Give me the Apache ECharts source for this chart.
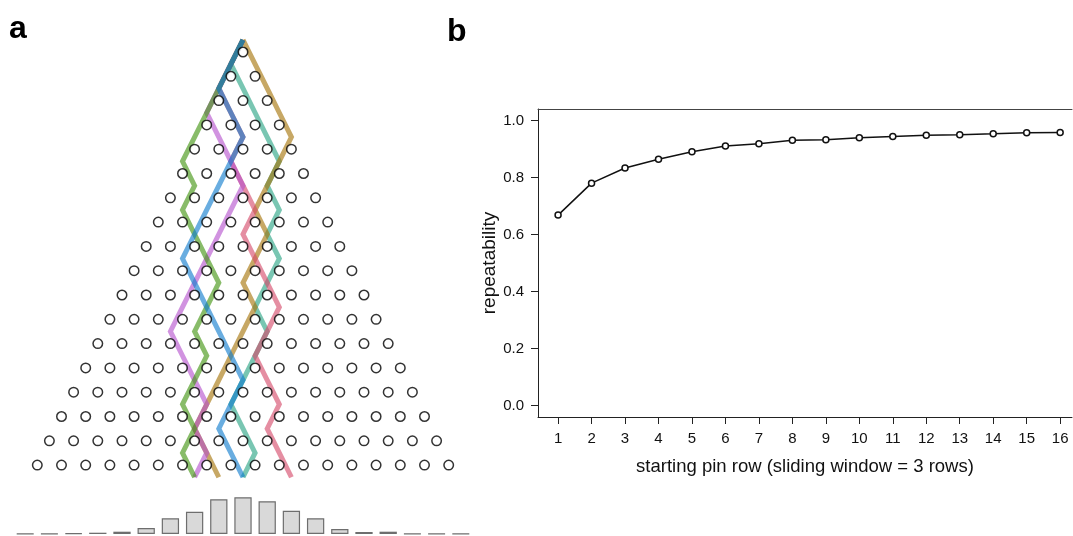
<!DOCTYPE html>
<html><head><meta charset="utf-8">
<script src="https://cdn.jsdelivr.net/npm/echarts@6/dist/echarts.min.js"></script>
<style>html,body{margin:0;padding:0;background:#fff}#c{width:1073px;height:536px}</style>
</head><body><div id="c"></div>
<script>
// ---- panel a: Galton board ----
const pinRows = 18;
// lateral position (in half-pin steps) of each ball path at the 19 levels between pin rows
const pathTeal   = [0,-1,0,1,2,3,2,3,2,3,2,1,2,1,0,-1,0,1,0];
const pathGold   = [0,1,2,3,4,3,2,1,2,1,0,1,0,-1,-2,-3,-4,-3,-2];
const pathPink   = [0,-1,-2,-1,0,-1,0,1,0,1,2,3,2,1,2,3,2,3,4];
const pathPurple = [0,-1,-2,-3,-2,-1,0,-1,-2,-3,-4,-5,-6,-5,-4,-3,-4,-3,-4];
const pathGreen  = [0,-1,-2,-3,-4,-5,-4,-5,-4,-3,-2,-3,-4,-3,-4,-5,-4,-5,-4];
const pathBlue   = [0,-1,-2,-1,0,-1,-2,-3,-4,-5,-4,-3,-2,-1,0,-1,-2,-1,0];
const pathColors = ['rgba(38,163,130,0.62)','rgba(165,115,7,0.62)','rgba(213,72,105,0.62)',
                    'rgba(180,80,205,0.62)','rgba(63,147,13,0.62)','rgba(13,122,205,0.62)'];
// final bin distribution (percent of balls)
const binLabels = ['0','1','2','3','4','5','6','7','8','9','10','11','12','13','14','15','16','17','18'];
const binValues = [0.15,0.15,0.35,0.64,1.14,2.97,7.77,11.03,17.16,18.15,16.17,11.52,7.77,2.47,0.99,1.14,0.15,0.15,0.15];

// ---- panel b ----
const startRows = [1,2,3,4,5,6,7,8,9,10,11,12,13,14,15,16];
const repeatability = [0.668,0.780,0.833,0.864,0.890,0.910,0.918,0.930,0.932,0.939,0.944,0.948,0.950,0.953,0.957,0.958];
const yTicks = [0,0.2,0.4,0.6,0.8,1.0];

const pins = [];
for (let r = 0; r < pinRows; r++) for (let k = 0; k <= r; k++) pins.push([2*k - r, r + 0.5]);
const paths = [pathTeal, pathGold, pathPink, pathPurple, pathGreen, pathBlue];

const font = 'Liberation Sans, Arial, Helvetica, sans-serif';
const chart = echarts.init(document.getElementById('c'), null, {renderer:'canvas'});
const series = [];
paths.forEach((p, i) => series.push({
  type:'line', xAxisIndex:0, yAxisIndex:0, data:p.map((j,r)=>[j,r]), symbol:'none',
  lineStyle:{color:pathColors[i], width:5, join:'miter', cap:'butt'}, z:2, animation:false, silent:true
}));
series.push({type:'scatter', xAxisIndex:0, yAxisIndex:0, data:pins, symbol:'circle', symbolSize:9.5,
  itemStyle:{color:'#fff', borderColor:'#000', borderWidth:1.5}, z:5, animation:false, silent:true});
series.push({type:'bar', xAxisIndex:1, yAxisIndex:1, data:binValues, barWidth:17.3,
  itemStyle:{color:'#d9d9d9', borderColor:'#6e6e6e', borderWidth:1.2}, animation:false, silent:true});
series.push({type:'line', xAxisIndex:2, yAxisIndex:2, data:startRows.map((s,i)=>[s,repeatability[i]]),
  symbol:'circle', symbolSize:6, lineStyle:{color:'#111', width:1.5},
  itemStyle:{color:'#fff', borderColor:'#111', borderWidth:1.5}, animation:false, z:3});

chart.setOption({
  animation:false,
  grid:[
    {left:1, top:15.55, width:484, height:486},
    {left:13.1, top:493.56, width:459.8, height:40.44},
    {left:538, top:109, width:534, height:308}
  ],
  xAxis:[
    {gridIndex:0, type:'value', min:-20, max:20, show:false},
    {gridIndex:1, type:'category', data:binLabels, show:false},
    {gridIndex:2, type:'value', min:0.4, max:16.354, position:'bottom',
     axisLine:{show:true, onZero:false, lineStyle:{color:'#222', width:1}},
     axisTick:{show:true, length:7, customValues:startRows, lineStyle:{color:'#222'}},
     axisLabel:{customValues:startRows, color:'#111', fontSize:15, fontFamily:font, margin:14},
     splitLine:{show:false},
     name:'starting pin row (sliding window = 3 rows)', nameLocation:'middle', nameGap:40,
     nameTextStyle:{color:'#111', fontSize:18.5, fontFamily:font}},
    {gridIndex:2, type:'value', min:0.4, max:16.354, position:'top',
     axisLine:{show:true, onZero:false, lineStyle:{color:'#444', width:1}},
     axisTick:{show:false}, axisLabel:{show:false}, splitLine:{show:false}}
  ],
  yAxis:[
    {gridIndex:0, type:'value', min:-1, max:19, inverse:true, show:false},
    {gridIndex:1, type:'value', min:0, max:20, show:false},
    {gridIndex:2, type:'value', min:-0.04, max:1.04, position:'left',
     axisLine:{show:true, onZero:false, lineStyle:{color:'#222', width:1}},
     axisTick:{show:true, length:7, customValues:yTicks, lineStyle:{color:'#222'}},
     axisLabel:{customValues:yTicks, color:'#111', fontSize:15, fontFamily:font, margin:14,
                formatter:v=>Number(v).toFixed(1)},
     splitLine:{show:false},
     name:'repeatability', nameLocation:'middle', nameGap:39,
     nameTextStyle:{color:'#111', fontSize:19, fontFamily:font}}
  ],
  graphic:[
    {type:'text', left:9, top:13, style:{text:'a', font:'bold 32px '+font, fill:'#000'}},
    {type:'text', left:447, top:16, style:{text:'b', font:'bold 32px '+font, fill:'#000'}}
  ],
  series:series
});
</script></body></html>
